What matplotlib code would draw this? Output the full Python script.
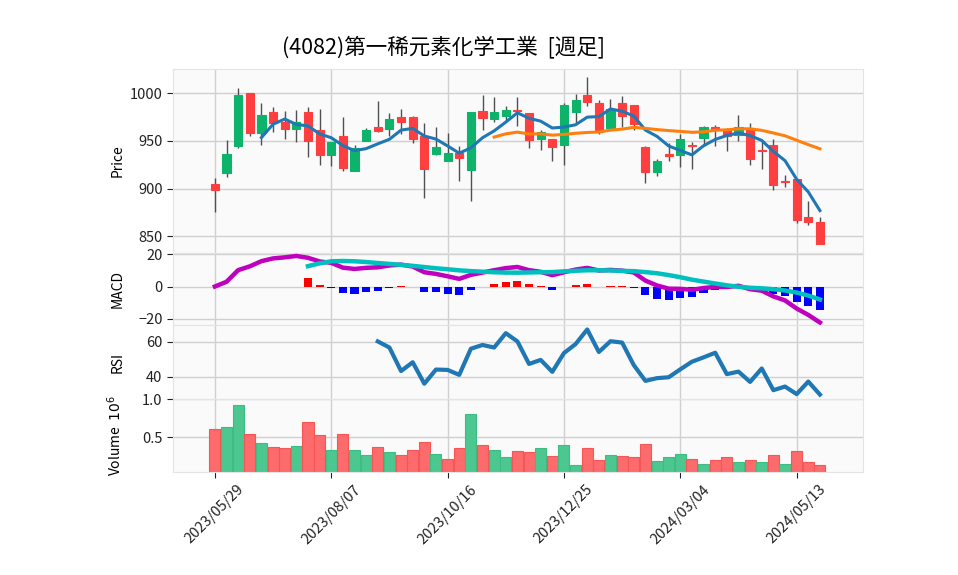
import numpy as np
import pandas as pd
import matplotlib
matplotlib.use("Agg")
import matplotlib.pyplot as plt

plt.rcParams['font.family'] = ['Noto Sans CJK JP', 'DejaVu Sans']
plt.rcParams['font.size'] = 10

# 週足データ (2023/05/29 から 53週)
opens = [905, 916, 945, 1000, 958, 980, 970, 963, 980, 961,
         935, 955, 919, 950, 965, 963, 975, 975, 955, 936,
         929, 937, 920, 981, 973, 976, 983, 979, 952, 952,
         946, 980, 998, 990, 964, 990, 988, 944, 917, 936,
         935, 946, 953, 965, 962, 956, 963, 941, 946, 908,
         910, 870, 865]
highs = [911, 951, 1006, 1000, 990, 986, 981, 983, 986, 984,
         949, 975, 946, 964, 992, 979, 984, 976, 969, 965,
         958, 945, 980, 998, 996, 987, 996, 979, 961, 952,
         990, 999, 1017, 993, 994, 997, 988, 945, 931, 948,
         957, 949, 966, 967, 964, 977, 969, 951, 952, 914,
         910, 887, 870]
lows = [875, 912, 943, 955, 946, 959, 952, 949, 933, 925,
        924, 919, 919, 950, 959, 955, 957, 948, 890, 935,
        929, 908, 887, 962, 970, 971, 966, 943, 941, 929,
        925, 969, 987, 957, 961, 965, 962, 906, 913, 929,
        923, 921, 945, 945, 940, 950, 925, 921, 899, 902,
        864, 862, 842]
closes = [899, 936, 998, 958, 977, 969, 963, 970, 950, 935,
          949, 922, 943, 961, 960, 973, 970, 952, 921, 944,
          937, 932, 980, 974, 980, 983, 981, 951, 959, 944,
          988, 993, 991, 962, 984, 976, 968, 917, 929, 934,
          952, 945, 965, 962, 955, 965, 931, 940, 904, 907,
          867, 865, 842]
volumes = [0.605, 0.63, 0.925, 0.543, 0.425, 0.368, 0.355, 0.38, 0.697, 0.526,
           0.329, 0.543, 0.329, 0.263, 0.368, 0.307, 0.263, 0.329, 0.434, 0.28,
           0.21, 0.355, 0.80, 0.399, 0.329, 0.237, 0.316, 0.307, 0.359, 0.254,
           0.399, 0.136, 0.359, 0.201, 0.267, 0.254, 0.24, 0.412, 0.188, 0.24,
           0.28, 0.214, 0.149, 0.201, 0.24, 0.175, 0.201, 0.175, 0.267, 0.149,
           0.32, 0.175, 0.136]  # 10^6 株

dates = pd.date_range('2023-05-29', periods=len(closes), freq='W-MON')
df = pd.DataFrame({'Open': opens, 'High': highs, 'Low': lows,
                   'Close': closes, 'Volume': volumes}, index=dates)
x = np.arange(len(df))

# テクニカル指標
ma5 = df['Close'].rolling(5).mean()
ma25 = df['Close'].rolling(25).mean()
ema12 = df['Close'].ewm(span=12, adjust=False).mean()
ema26 = df['Close'].ewm(span=26, adjust=False).mean()
macd = ema12 - ema26
signal = macd.rolling(9).mean()
hist = macd - signal
delta = df['Close'].diff()
gain = delta.clip(lower=0).rolling(14).mean()
loss = (-delta.clip(upper=0)).rolling(14).mean()
rsi = 100 - 100 / (1 + gain / loss)

up = df['Close'] >= df['Open']
vol_up = df['Close'] >= df['Close'].shift(1)
vol_up.iloc[0] = False

fig = plt.figure(figsize=(9.58, 5.75), dpi=100)
gs = fig.add_gridspec(4, 1, height_ratios=[184, 72, 74, 73], hspace=0,
                      left=0.1806, right=0.9008, top=0.88, bottom=0.1791)
ax1 = fig.add_subplot(gs[0])
ax2 = fig.add_subplot(gs[1], sharex=ax1)
ax3 = fig.add_subplot(gs[2], sharex=ax1)
ax4 = fig.add_subplot(gs[3], sharex=ax1)

for ax in (ax1, ax2, ax3, ax4):
    ax.set_facecolor('#fafafa')
    ax.grid(True, color='#d0d0d0', linewidth=1)
    ax.set_axisbelow(True)
    for sp in ax.spines.values():
        sp.set_color('#e4e4e4')
    ax.tick_params(axis='y', colors='#222222', length=4, color='#222222',
                   labelsize=10.5)
    ax.tick_params(axis='x', length=4, color='#222222')

# ローソク足
c_up, c_down = '#0db36b', '#ff3f3f'
colors = [c_up if u else c_down for u in up]
ax1.vlines(x, df['Low'], df['High'], color='#505050', linewidth=1, zorder=2)
bottom = np.minimum(df['Open'], df['Close'])
height = np.abs(df['Close'] - df['Open'])
ax1.bar(x, height, bottom=bottom, width=0.7, color=colors, edgecolor=colors,
        linewidth=0.8, zorder=3)
ax1.plot(x, ma5, color='#1f77b4', linewidth=2.2, zorder=4)
ax1.plot(x, ma25, color='#ff7f0e', linewidth=2.2, zorder=4)
ax1.set_ylim(832.5, 1025.5)
ax1.set_yticks([850, 900, 950, 1000])
ax1.set_ylabel('Price')

# MACD
hcol = ['red' if h >= 0 else 'blue' for h in hist.fillna(0)]
ax2.bar(x, hist, width=0.7, color=hcol, zorder=2)
ax2.plot(x, macd, color='#bf00bf', linewidth=3.2, zorder=3)
ax2.plot(x, signal, color='#00bfbf', linewidth=3.2, zorder=3)
ax2.set_ylim(-23.9, 20.8)
ax2.set_yticks([-20, 0, 20])
ax2.set_ylabel('MACD')

# RSI
ax3.plot(x, rsi, color='#1f77b4', linewidth=3)
ax3.set_ylim(27.4, 69.7)
ax3.set_yticks([40, 60])
ax3.set_ylabel('RSI')

# 出来高
vcol = ['#4dc790' if u else '#fd6b6c' for u in vol_up]
vedge = ['#3dbd82' if u else '#f55656' for u in vol_up]
ax4.bar(x, df['Volume'], width=0.95, color=vcol, edgecolor=vedge,
        linewidth=0.8, zorder=2)
ax4.set_ylim(0.043, 1.0)
ax4.set_yticks([0.5, 1.0])
ax4.set_yticklabels(['0.5', '1.0'])
ax4.set_ylabel('Volume  $10^{6}$')

ax1.set_xlim(-3.6, len(df) - 1 + 3.7)
tick_pos = x[::10]
tick_labels = [d.strftime('%Y/%m/%d') for d in dates[::10]]
ax4.set_xticks(tick_pos)
ax4.set_xticklabels(tick_labels, rotation=45, color='#222222', fontsize=10.5)
for ax in (ax1, ax2, ax3):
    ax.tick_params(axis='x', labelbottom=False, length=0)

fig.align_ylabels([ax1, ax2, ax3, ax4])
fig.text(443 / 958, 1 - 46.5 / 575, '(4082)第一稀元素化学工業  [週足]',
         ha='center', va='center', fontsize=15.5)

fig.savefig('out.png', dpi=100)
